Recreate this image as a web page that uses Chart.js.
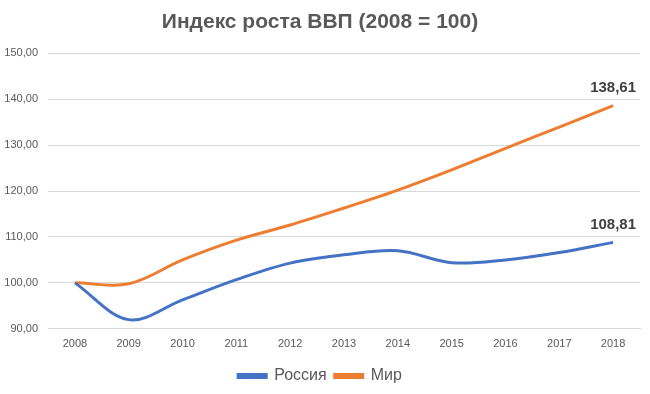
<!DOCTYPE html>
<html>
<head>
<meta charset="utf-8">
<script src="https://cdn.jsdelivr.net/npm/chart.js@4"></script>
<style>
    html, body { margin: 0; padding: 0; background: #fff; }
    #wrap { width: 650px; height: 394px; }
</style>
</head>
<body>
<div id="wrap"><canvas id="gdpChart"></canvas></div>
<script>
const years = ["2008", "2009", "2010", "2011", "2012", "2013", "2014", "2015", "2016", "2017", "2018"];
const russia = [100, 92.0, 96.3, 100.7, 104.3, 106.1, 107.0, 104.4, 105.0, 106.6, 108.81];
const world = [100, 99.8, 105.0, 109.3, 112.6, 116.3, 120.2, 124.6, 129.3, 133.9, 138.61];
const yTicks = [90, 100, 110, 120, 130, 140, 150];

const fmt = (v) => v.toFixed(2).replace(".", ",");
const FONT = "'Liberation Sans', Arial, sans-serif";

// Draw value labels above last point of each line
const lastLabel = {
    id: "lastLabel",
    afterDatasetsDraw(chart) {
        const ctx = chart.ctx;
        ctx.save();
        ctx.font = "bold 15px " + FONT;
        ctx.fillStyle = "#404040";
        ctx.textAlign = "center";
        ctx.textBaseline = "bottom";
        chart.data.datasets.forEach((ds, i) => {
            const meta = chart.getDatasetMeta(i);
            const pt = meta.data[meta.data.length - 1];
            ctx.fillText(fmt(ds.data[ds.data.length - 1]), pt.x, pt.y - 10);
        });
        ctx.restore();
    },
};

new Chart(document.getElementById("gdpChart"), {
    type: "line",
    data: {
        labels: years,
        datasets: [
            {
                label: "Россия",
                data: russia,
                borderColor: "#4472C4",
                backgroundColor: "#4472C4",
                borderWidth: 3,
                pointRadius: 0,
                tension: 0.35,
            },
            {
                label: "Мир",
                data: world,
                borderColor: "#ED7D31",
                backgroundColor: "#ED7D31",
                borderWidth: 3,
                pointRadius: 0,
                tension: 0.35,
            },
        ],
    },
    options: {
        responsive: true,
        maintainAspectRatio: false,
        animation: false,
        layout: { padding: { left: 0, right: 10, top: 4, bottom: 0 } },
        plugins: {
            title: {
                display: true,
                text: "Индекс роста ВВП (2008 = 100)",
                color: "#595959",
                font: { family: FONT, size: 21, weight: "bold" },
                padding: { top: 6, bottom: 18 },
            },
            legend: {
                position: "bottom",
                labels: {
                    color: "#595959",
                    font: { family: FONT, size: 16 },
                    boxWidth: 28,
                    boxHeight: 3,
                    padding: 8,
                },
            },
            tooltip: { enabled: false },
        },
        scales: {
            x: {
                offset: true,
                grid: { display: false, drawTicks: false },
                border: { color: "#d9d9d9" },
                ticks: {
                    color: "#595959",
                    padding: 9,
                    font: { family: FONT, size: 11 },
                    maxRotation: 0,
                },
            },
            y: {
                min: 90,
                max: 150,
                afterBuildTicks: (axis) => {
                    axis.ticks = yTicks.map((v) => ({ value: v }));
                },
                afterFit: (axis) => {
                    axis.width = 48;
                },
                grid: { color: "#d9d9d9", drawTicks: false },
                border: { display: false },
                ticks: {
                    color: "#595959",
                    padding: 10,
                    font: { family: FONT, size: 11 },
                    callback: (v) => fmt(v),
                },
            },
        },
    },
    plugins: [lastLabel],
});
</script>
</body>
</html>
